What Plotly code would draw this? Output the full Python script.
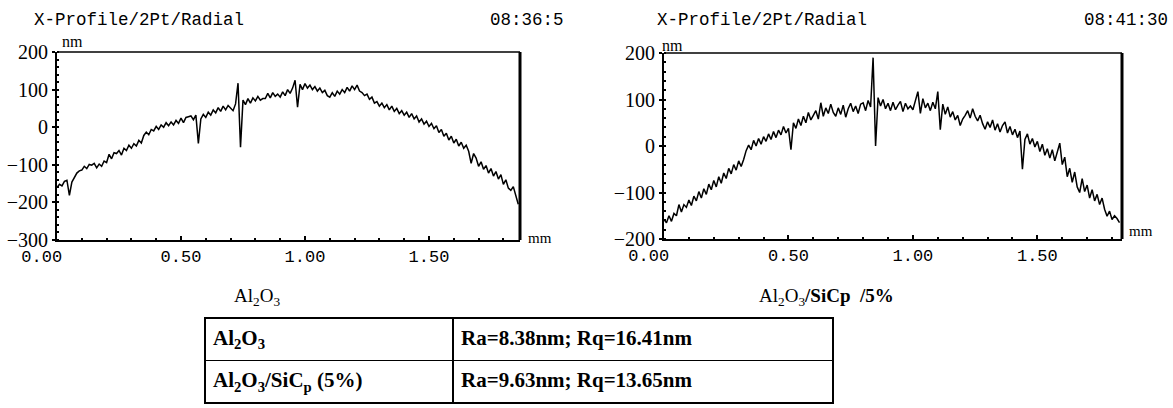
import plotly.graph_objects as go

W, H = 1173, 408

# ---------------- data ----------------
dx_mm = 0.01  # sampling step along the profile (mm)

al2o3_nm = [
    -160, -152, -156, -144, -141, -181, -146, -134, -122, -116,
    -114, -104, -110, -99, -101, -96, -108, -98, -104, -90,
    -94, -72, -84, -68, -70, -62, -74, -56, -62, -48,
    -56, -44, -50, -35, -42, -22, -13, -20, -6, -10,
    2, -6, 6, 0, 12, 4, 14, 6, 18, 10,
    24, 12, 26, 28, 30, 20, 32, -43, 22, 34,
    26, 40, 32, 46, 38, 52, 42, 56, 46, 58,
    50, 44, 62, 117, -53, 72, 60, 76, 64, 78,
    70, 82, 72, 76, 76, 90, 78, 92, 82, 88,
    80, 94, 84, 100, 90, 104, 125, 53, 114, 100,
    116, 104, 112, 100, 108, 96, 104, 92, 98, 84,
    80, 92, 82, 96, 88, 100, 92, 106, 96, 110,
    100, 112, 96, 92, 84, 88, 74, 80, 64, 68,
    56, 64, 52, 60, 46, 56, 42, 50, 36, 44,
    32, 40, 26, 36, 22, 30, 14, 22, 8, 16,
    2, 10, -4, 4, -14, -6, -24, -16, -34, -24,
    -42, -32, -50, -40, -56, -48, -64, -96, -70, -82,
    -104, -92, -112, -102, -122, -110, -130, -118, -138, -126,
    -152, -140, -162, -168, -158, -185, -205,
]

sicp_nm = [
    -158, -165, -150, -162, -145, -150, -126, -142, -126, -132,
    -116, -128, -108, -118, -98, -112, -92, -104, -82, -94,
    -74, -88, -66, -80, -58, -70, -48, -60, -40, -52,
    -32, -44, -29, -10, 2, -8, 12, 0, 16, 4,
    20, 10, 26, 14, 31, 18, 34, 24, 42, 28,
    38, -8, 50, 38, 58, 44, 64, 50, 72, 56,
    66, 76, 58, 93, 64, 82, 70, 90, 72, 64,
    82, 68, 88, 62, 80, 92, 74, 86, 70, 90,
    93, 76, 98, 84, 190, 0, 104, 86, 100, 80,
    92, 76, 94, 78, 88, 96, 74, 92, 80, 86,
    78, 98, 117, 70, 102, 82, 92, 76, 94, 80,
    117, 35, 90, 68, 84, 62, 74, 56, 66, 44,
    58, 66, 76, 60, 80, 64, 54, 66, 48, 36,
    52, 40, 56, 34, 48, 30, 44, 52, 28, 42,
    24, 36, 18, 32, -50, 14, 26, 4, 16, -2,
    10, -12, 4, -20, -6, -26, -8, -32, -12, 6,
    -40, -24, -66, -48, -78, -56, -88, -100, -70, -98,
    -84, -112, -94, -118, -104, -126, -112, -136, -151, -140,
    -158, -150, -156, -165,
]

x_tickvals = [0, 0.5, 1.0, 1.5]
x_ticktext = ["0.00\u00a0\u00a0\u00a0", "0.50", "1.00", "1.50"]
left_ytickvals = [200, 100, 0, -100, -200, -300]
right_ytickvals = [200, 100, 0, -100, -200]

titles = ["X-Profile/2Pt/Radial", "X-Profile/2Pt/Radial"]
times = ["08:36:5", "08:41:30"]

table_col1 = ["<b>Al<sub>2</sub>O<sub>3</sub></b>",
              "<b>Al<sub>2</sub>O<sub>3</sub>/SiC<sub>p</sub> (5%)</b>"]
table_col2 = ["<b>Ra=8.38nm; Rq=16.41nm</b>",
              "<b>Ra=9.63nm; Rq=13.65nm</b>"]

# ---------------- helpers ----------------
def px(x):
    return x / W

def py(y):
    return 1 - y / H

MONO = "Liberation Mono"
SERIF = "Liberation Serif"

fig = go.Figure()

fig.add_trace(go.Scatter(y=al2o3_nm, x0=0, dx=dx_mm, mode="lines",
                         line=dict(color="black", width=1.5),
                         xaxis="x", yaxis="y", showlegend=False))
fig.add_trace(go.Scatter(y=sicp_nm, x0=0, dx=dx_mm, mode="lines",
                         line=dict(color="black", width=1.5),
                         xaxis="x2", yaxis="y2", showlegend=False))

fig.add_trace(go.Table(
    domain=dict(x=[px(205), px(833)], y=[py(407), py(318)]),
    columnwidth=[248, 380],
    header=dict(values=[table_col1[0], table_col2[0]], align="left",
                height=40, fill=dict(color="white"),
                line=dict(color="black", width=1.6),
                font=dict(family=SERIF, size=21, color="black")),
    cells=dict(values=[[table_col1[1]], [table_col2[1]]], align="left",
               height=40, fill=dict(color="white"),
               line=dict(color="black", width=1.6),
               font=dict(family=SERIF, size=21, color="black")),
))

xcommon = dict(showgrid=False, zeroline=False, showline=True, linecolor="black",
               linewidth=2, ticks="inside", ticklen=4, tickwidth=1.5,
               tickcolor="black", tickvals=x_tickvals, ticktext=x_ticktext,
               tickfont=dict(family=MONO, size=17, color="black"),
               minor=dict(ticks="inside", ticklen=2, tickwidth=1.5,
                          dtick=0.1, tickcolor="black"))
ycommon = dict(showgrid=False, zeroline=False, showline=True, linecolor="black",
               linewidth=2, ticks="outside", ticklen=3, tickwidth=1.5,
               tickcolor="black",
               tickfont=dict(family=SERIF, size=20, color="black"),
               minor=dict(ticks="inside", ticklen=2, tickwidth=1.5,
                          dtick=20, tickcolor="black"))

fig.update_layout(
    width=W, height=H,
    margin=dict(l=0, r=0, t=0, b=0, autoexpand=False),
    paper_bgcolor="white", plot_bgcolor="white",
    xaxis=dict(domain=[px(57), px(520)], range=[0, 1.867], anchor="y", **xcommon),
    yaxis=dict(domain=[py(240), py(52)], range=[-300, 200], anchor="x",
               tickvals=left_ytickvals, **ycommon),
    xaxis2=dict(domain=[px(664), px(1122)], range=[0, 1.84], anchor="y2", **xcommon),
    yaxis2=dict(domain=[py(239), py(53)], range=[-200, 200], anchor="x2",
                tickvals=right_ytickvals, **ycommon),
)

# borders (top thin, right thick)
for xr, yr in (("x", "y"), ("x2", "y2")):
    fig.add_shape(type="line", xref=f"{xr} domain", yref=f"{yr} domain",
                  x0=0, x1=1, y0=1, y1=1, line=dict(color="black", width=1.3))
    fig.add_shape(type="line", xref=f"{xr} domain", yref=f"{yr} domain",
                  x0=1, x1=1, y0=0, y1=1, line=dict(color="black", width=3))

ann = []
def text(x, y, s, font, size, xanchor="left", yanchor="middle"):
    ann.append(dict(x=px(x), y=py(y), xref="paper", yref="paper", text=s,
                    showarrow=False, xanchor=xanchor, yanchor=yanchor,
                    font=dict(family=font, size=size, color="black")))

text(32, 20, titles[0], MONO, 17.5)
text(488, 20, times[0], MONO, 17.5)
text(655, 20, titles[1], MONO, 17.5)
text(1082, 20, times[1], MONO, 17.5)
text(60, 42, "nm", SERIF, 16)
text(660, 45, "nm", SERIF, 16)
text(526, 238, "mm", SERIF, 15)
text(1127, 231, "mm", SERIF, 15)
text(232, 297, "Al<sub>2</sub>O<sub>3</sub>", SERIF, 19)
text(757, 297, "Al<sub>2</sub>O<sub>3</sub><b>/SiCp  /5%</b>", SERIF, 19)
fig.update_layout(annotations=ann)

fig.write_html("out.html")
